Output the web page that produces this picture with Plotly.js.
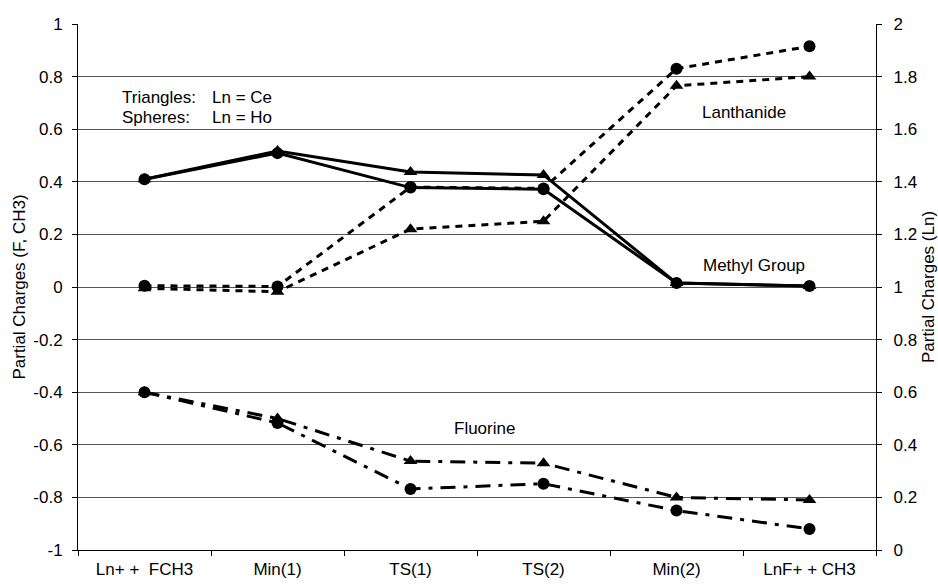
<!DOCTYPE html>
<html>
<head>
<meta charset="utf-8">
<script src="https://cdn.plot.ly/plotly-3.0.1.min.js"></script>
<style>html,body{margin:0;padding:0;background:#fff;}#chart{width:938px;height:585px;}</style>
</head>
<body>
<div id="chart"></div>
<script>
const categories = ["Ln+ +\u00a0 FCH3", "Min(1)", "TS(1)", "TS(2)", "Min(2)", "LnF+ + CH3"];

// Left axis (F, CH3)
const methylCe = [0.41, 0.517, 0.437, 0.426, 0.015, 0.004];
const methylHo = [0.41, 0.509, 0.378, 0.372, 0.015, 0.004];
const fluorineCe = [-0.40, -0.50, -0.662, -0.67, -0.80, -0.81];
const fluorineHo = [-0.40, -0.517, -0.768, -0.748, -0.85, -0.92];

// Right axis (Ln)
const lanthanideCe = [0.995, 0.982, 1.22, 1.25, 1.765, 1.80];
const lanthanideHo = [1.005, 1.002, 1.38, 1.375, 1.83, 1.915];

// Left axis tick labels (hyphen minus as in the original)
const leftTickVals = [-1, -0.8, -0.6, -0.4, -0.2, 0, 0.2, 0.4, 0.6, 0.8, 1];
const leftTickText = ["-1", "-0.8", "-0.6", "-0.4", "-0.2", "0", "0.2", "0.4", "0.6", "0.8", "1"];

const tri = {symbol: "triangle-up", size: 12, color: "#000"};
const circ = {symbol: "circle", size: 12, color: "#000"};

const traces = [
  {x: categories, y: lanthanideCe, yaxis: "y2", mode: "lines+markers", line: {color: "#000", width: 3, dash: "7px,6px"}, marker: tri},
  {x: categories, y: lanthanideHo, yaxis: "y2", mode: "lines+markers", line: {color: "#000", width: 3, dash: "7px,6px"}, marker: circ},
  {x: categories, y: methylCe, mode: "lines+markers", line: {color: "#000", width: 3}, marker: tri},
  {x: categories, y: methylHo, mode: "lines+markers", line: {color: "#000", width: 3}, marker: circ},
  {x: categories, y: fluorineCe, mode: "lines+markers", line: {color: "#000", width: 3, dash: "15px,8px,4px,8px"}, marker: tri},
  {x: categories, y: fluorineHo, mode: "lines+markers", line: {color: "#000", width: 3, dash: "15px,8px,4px,8px"}, marker: circ}
];

const font = {family: "Liberation Sans, Arial, sans-serif", size: 17, color: "#000"};
const afont = {family: "Liberation Sans, Arial, sans-serif", size: 17, color: "#000"};

const W = 798, H = 526, L = 78, T = 24;
const px = x => (x - L) / W;
const py = y => 1 - (y - T) / H;

const layout = {
  width: 938, height: 585,
  margin: {l: 78, r: 62, t: 24, b: 35},
  paper_bgcolor: "#fff", plot_bgcolor: "#fff",
  showlegend: false,
  font: font,
  xaxis: {
    type: "category", range: [-0.5, 5.5],
    showgrid: false, showline: true, linecolor: "#000", linewidth: 1,
    ticks: "outside", tickson: "boundaries", ticklen: 5, tickcolor: "#000",
    tickfont: font, zeroline: false, ticklabelstandoff: 4
  },
  yaxis: {
    range: [-1, 1], tickmode: "array", tickvals: leftTickVals, ticktext: leftTickText,
    showgrid: true, gridcolor: "#555", gridwidth: 1,
    showline: true, linecolor: "#000", linewidth: 1,
    ticks: "outside", ticklen: 5, tickcolor: "#000",
    zeroline: false, tickfont: font, ticklabelstandoff: 6,
    title: {text: "Partial Charges (F, CH3)", font: font, standoff: 3}
  },
  yaxis2: {
    overlaying: "y", side: "right", range: [0, 2], dtick: 0.2, tick0: 0,
    tickprefix: "\u00a0\u2009",
    showgrid: false, showline: true, linecolor: "#000", linewidth: 1,
    ticks: "outside", ticklen: 5, tickcolor: "#000",
    zeroline: false, tickfont: font,
    title: {text: "Partial Charges (Ln)", font: font, standoff: 5}
  },
  annotations: [
    {text: "Triangles:", xref: "paper", yref: "paper", x: px(120), y: py(97), xanchor: "left", yanchor: "middle", showarrow: false, font: afont},
    {text: "Ln = Ce", xref: "paper", yref: "paper", x: px(210), y: py(97), xanchor: "left", yanchor: "middle", showarrow: false, font: afont},
    {text: "Spheres:", xref: "paper", yref: "paper", x: px(120), y: py(117), xanchor: "left", yanchor: "middle", showarrow: false, font: afont},
    {text: "Ln = Ho", xref: "paper", yref: "paper", x: px(210), y: py(117), xanchor: "left", yanchor: "middle", showarrow: false, font: afont},
    {text: "Lanthanide", xref: "paper", yref: "paper", x: px(744), y: py(112), xanchor: "center", yanchor: "middle", showarrow: false, font: afont},
    {text: "Methyl Group", xref: "paper", yref: "paper", x: px(754), y: py(265), xanchor: "center", yanchor: "middle", showarrow: false, font: afont},
    {text: "Fluorine", xref: "paper", yref: "paper", x: px(484), y: py(428), xanchor: "center", yanchor: "middle", showarrow: false, font: afont}
  ]
};

Plotly.newPlot("chart", traces, layout, {displayModeBar: false, staticPlot: true});
</script>
</body>
</html>
